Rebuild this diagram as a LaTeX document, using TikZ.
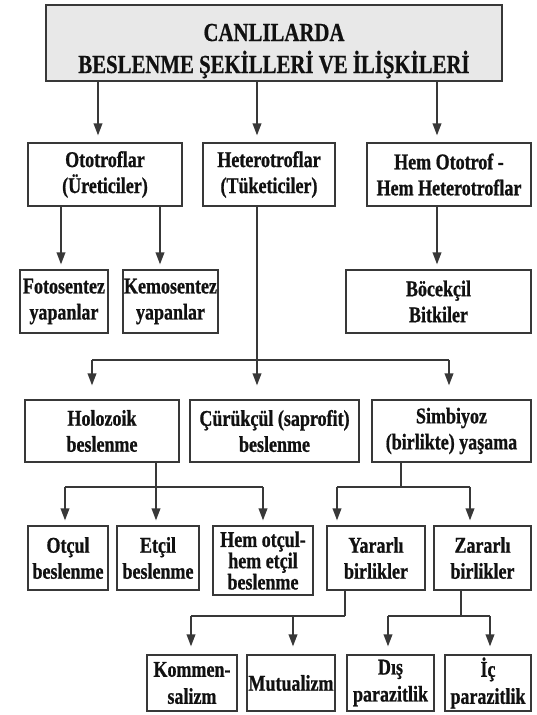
\documentclass[tikz,border=0pt]{standalone}
\usepackage{fontspec}
\setmainfont{Liberation Serif}[FakeStretch=0.8]
\newfontfamily\boxfont{Liberation Serif Bold}[FakeStretch=0.8, FakeBold=0.8]
\newfontfamily\titlefont{Liberation Serif Bold}[FakeStretch=0.8, FakeBold=0.6]
\usetikzlibrary{arrows.meta}
\definecolor{linec}{HTML}{383838}
\definecolor{textc}{HTML}{111111}
\definecolor{titlefill}{HTML}{E8E8E8}
\begin{document}
\begin{tikzpicture}[x=1pt,y=-1pt,
  box/.style={draw=linec, line width=1.1pt, fill=white, align=center, inner sep=0pt,
    text=textc, font=\boxfont\fontsize{22.5}{26}\selectfont},
  ln/.style={draw=linec, line width=1.9pt},
  arr/.style={ln, -{Triangle[length=12pt,width=8.5pt]}},
  ttl/.style={anchor=base, inner sep=0pt, text=textc, font=\titlefont\fontsize{26}{30}\selectfont}]
\useasboundingbox (0,0) rectangle (537,715);
% title
\node[box, fill=titlefill, minimum width=456pt, minimum height=76pt] (title) at (274,43) {};
\node[ttl] (t1) at (274,41) {CANLILARDA};
\node[ttl] (t2) at (274,73) {BESLENME ŞEKİLLERİ VE İLİŞKİLERİ};
% level 2
\node[box, minimum width=154pt, minimum height=63pt] (oto) at (105,174.5) {Ototroflar\\(Üreticiler)};
\node[box, minimum width=132pt, minimum height=63pt] (het) at (269,174.5) {Heterotroflar\\(Tüketiciler)};
\node[box, minimum width=164pt, minimum height=63pt] (hem) at (449,174.5) {Hem Ototrof -\\Hem Heterotroflar};
% level 3
\node[box, minimum width=88pt, minimum height=63pt] (foto) at (64,301.5) {Fotosentez\\yapanlar};
\node[box, minimum width=95pt, minimum height=63pt] (kemo) at (170.5,301.5) {Kemosentez\\yapanlar};
\node[box, minimum width=185pt, minimum height=63pt] (boc) at (438.5,301.5) {Böcekçil\\Bitkiler};
% level 4
\node[box, minimum width=154pt, minimum height=62pt] (holo) at (102,431) {Holozoik\\beslenme};
\node[box, minimum width=169pt, minimum height=62pt] (cur) at (274.5,431) {Çürükçül (saprofit)\\beslenme};
\node[box, minimum width=159pt, minimum height=62pt] (sim) at (451.5,431) {Simbiyoz\\(birlikte) yaşama};
% level 5
\node[box, minimum width=80pt, minimum height=64pt] (otcul) at (68,558) {Otçul\\beslenme};
\node[box, minimum width=82pt, minimum height=64pt] (etcil) at (158,558) {Etçil\\beslenme};
\node[box, minimum width=100pt, minimum height=69pt, font=\boxfont\fontsize{22.5}{20}\selectfont] (hemot) at (263,560.5) {Hem otçul-\\hem etçil\\beslenme};
\node[box, minimum width=98pt, minimum height=64pt] (yar) at (376,558) {Yararlı\\birlikler};
\node[box, minimum width=97pt, minimum height=64pt] (zar) at (482.5,558) {Zararlı\\birlikler};
% level 6
\node[box, minimum width=90pt, minimum height=56pt, font=\boxfont\fontsize{22.5}{27}\selectfont] (kom) at (192,683) {Kommen-\\salizm};
\node[box, minimum width=88pt, minimum height=56pt] (mut) at (291,683) {Mutualizm};
\node[box, minimum width=87pt, minimum height=56pt, font=\boxfont\fontsize{22.5}{27}\selectfont] (dis) at (390.5,683) {Dış\\parazitlik};
\node[box, minimum width=86pt, minimum height=56pt, font=\boxfont\fontsize{22.5}{27}\selectfont] (ic) at (488,683) {İç\\parazitlik};
% helper coordinates
\coordinate (a1) at (98,0);
\coordinate (a2) at (257,0);
\coordinate (a3) at (437,0);
\coordinate (b1) at (61,0);
\coordinate (b2) at (160,0);
\coordinate (hjl) at (92,360);
\coordinate (hjr) at (449,360);
\coordinate (hj) at (257,360);
\coordinate (cj) at (156,487);
\coordinate (cjl) at (65,487);
\coordinate (cjr) at (263,487);
\coordinate (sj) at (401,487);
\coordinate (sjl) at (337,487);
\coordinate (sjr) at (470,487);
\coordinate (yj) at (345,616);
\coordinate (yjl) at (191,616);
\coordinate (yjm) at (293,616);
\coordinate (zj) at (461,616);
\coordinate (zjl) at (388,616);
\coordinate (zjr) at (490,616);
% title to level 2
\draw[arr, shorten >=7pt] (title.south -| a1) -- (oto.north -| a1);
\draw[arr, shorten >=7pt] (title.south -| a2) -- (het.north -| a2);
\draw[arr, shorten >=7pt] (title.south -| a3) -- (hem.north -| a3);
% level 2 to level 3
\draw[arr, shorten >=5pt] (oto.south -| b1) -- (foto.north -| b1);
\draw[arr, shorten >=5pt] (oto.south -| b2) -- (kemo.north -| b2);
\draw[arr, shorten >=5pt] (hem.south -| a3) -- (boc.north -| a3);
% heterotroflar
\draw[arr, shorten >=14pt] (het.south -| a2) -- (cur.north -| a2);
\draw[ln] (hjl) -- (hjr);
\draw[arr, shorten >=14pt] (hjl) -- (holo.north -| hjl);
\draw[arr, shorten >=14pt] (hjr) -- (sim.north -| hjr);
% holozoik
\draw[ln] (holo.south -| cj) -- (cj);
\draw[ln] (cjl) -- (cjr);
\draw[arr, shorten >=5pt] (cjl) -- (otcul.north -| cjl);
\draw[arr, shorten >=5pt] (cj) -- (etcil.north -| cj);
\draw[arr, shorten >=5pt] (cjr) -- (hemot.north -| cjr);
% simbiyoz
\draw[ln] (sim.south -| sj) -- (sj);
\draw[ln] (sjl) -- (sjr);
\draw[arr, shorten >=5pt] (sjl) -- (yar.north -| sjl);
\draw[arr, shorten >=5pt] (sjr) -- (zar.north -| sjr);
% yararli
\draw[ln] (yar.south -| yj) -- (yj);
\draw[ln] (yjl) -- (yj);
\draw[arr, shorten >=8pt] (yjl) -- (kom.north -| yjl);
\draw[arr, shorten >=8pt] (yjm) -- (mut.north -| yjm);
% zararli
\draw[ln] (zar.south -| zj) -- (zj);
\draw[ln] (zjl) -- (zjr);
\draw[arr, shorten >=8pt] (zjl) -- (dis.north -| zjl);
\draw[arr, shorten >=8pt] (zjr) -- (ic.north -| zjr);
\end{tikzpicture}
\end{document}
